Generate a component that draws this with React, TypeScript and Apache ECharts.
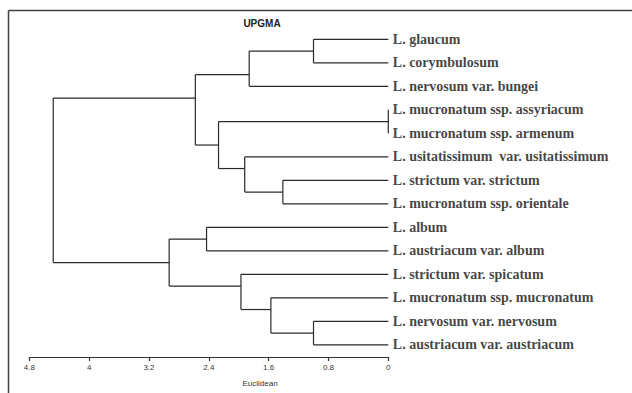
import React, { useEffect, useRef } from "react";
import * as echarts from "echarts";

// Leaves (top to bottom) and their row positions
const leafNames = [
  "L. glaucum",
  "L. corymbulosum",
  "L. nervosum var. bungei",
  "L. mucronatum ssp. assyriacum",
  "L. mucronatum ssp. armenum",
  "L. usitatissimum  var. usitatissimum",
  "L. strictum var. strictum",
  "L. mucronatum ssp. orientale",
  "L. album",
  "L. austriacum var. album",
  "L. strictum var. spicatum",
  "L. mucronatum ssp. mucronatum",
  "L. nervosum var. nervosum",
  "L. austriacum var. austriacum",
];
const leafRows = [1, 2, 3, 4, 5, 6, 7, 8, 9, 10, 11, 12, 13, 14];

// Internal nodes: id, merge height (Euclidean), row position, children
const nodeIds = ["A", "B", "P", "E", "D", "C", "T", "F", "I", "H", "G", "U", "R"];
const nodeHeights = [1.0, 1.86, 0, 1.41, 1.92, 2.27, 2.58, 2.43, 1.0, 1.57, 1.97, 2.93, 4.48];
const nodeRows = [1.5, 2.5, 4.5, 7.5, 6.5, 5.5, 3.5, 9.5, 13.5, 12.5, 11.5, 10.5, 7];
const nodeChildren = [
  ["L0", "L1"],
  ["A", "L2"],
  ["L3", "L4"],
  ["L6", "L7"],
  ["L5", "E"],
  ["P", "D"],
  ["B", "C"],
  ["L8", "L9"],
  ["L12", "L13"],
  ["L11", "I"],
  ["L10", "H"],
  ["F", "G"],
  ["T", "U"],
];

const xTicks = [0, 0.8, 1.6, 2.4, 3.2, 4, 4.8];

function posOf(id: string): [number, number] {
  if (id.startsWith("L")) {
    const i = parseInt(id.slice(1), 10);
    return [0, leafRows[i]];
  }
  const k = nodeIds.indexOf(id);
  return [nodeHeights[k], nodeRows[k]];
}

function buildSegments(): number[][] {
  const segs: number[][] = [];
  nodeIds.forEach((id, k) => {
    const h = nodeHeights[k];
    const rows = nodeChildren[k].map((c) => posOf(c)[1]);
    segs.push([h, Math.min(...rows), h, Math.max(...rows)]);
    nodeChildren[k].forEach((c) => {
      const [ch, cr] = posOf(c);
      if (ch !== h) segs.push([ch, cr, h, cr]);
    });
  });
  return segs;
}

export default function App() {
  const ref = useRef<HTMLDivElement>(null);
  useEffect(() => {
    if (!ref.current) return;
    const chart = echarts.init(ref.current, null, { renderer: "svg" });
    const segs = buildSegments();
    chart.setOption({
      animation: false,
      backgroundColor: "#ffffff",
      grid: { left: 29.3, right: 243.7, top: 15.8, bottom: 36 },
      xAxis: {
        type: "value",
        position: "bottom",
        inverse: true,
        min: 0,
        max: 4.8,
        interval: 0.8,
        splitLine: { show: false },
        axisLine: { show: true, onZero: false, lineStyle: { color: "#333", width: 1.2 } },
        axisTick: { show: true, length: 4, lineStyle: { color: "#333", width: 1.2 } },
        axisLabel: {
          margin: 6,
          fontSize: 8,
          fontFamily: "Liberation Sans, Arial, sans-serif",
          color: "#333",
          formatter: (v: number) => {
            const r = Math.round(v * 10) / 10;
            return xTicks.includes(r) ? String(r) : "";
          },
        },
      },
      yAxis: {
        type: "value",
        inverse: true,
        min: 0,
        max: 14.52,
        show: false,
      },
      series: [
        {
          type: "custom",
          silent: true,
          data: segs,
          encode: { x: [0, 2], y: [1, 3] },
          renderItem: (params: any, api: any) => {
            const p1 = api.coord([api.value(0), api.value(1)]);
            const p2 = api.coord([api.value(2), api.value(3)]);
            return {
              type: "line",
              shape: { x1: p1[0], y1: p1[1], x2: p2[0], y2: p2[1] },
              style: { stroke: "#2a2a2a", lineWidth: 1.2 },
            };
          },
        },
        {
          type: "scatter",
          silent: true,
          symbolSize: 1,
          itemStyle: { color: "rgba(0,0,0,0)" },
          data: leafRows.map((r, i) => ({ value: [0, r], name: leafNames[i] })),
          label: {
            show: true,
            position: "right",
            distance: 4,
            formatter: "{b}",
            fontFamily: "Liberation Serif, 'Times New Roman', serif",
            fontWeight: "bold",
            fontSize: 14,
            color: "#111",
          },
        },
      ],
      graphic: [
        {
          type: "line",
          silent: true,
          shape: { x1: 8.5, y1: 10.5, x2: 632, y2: 10.5 },
          style: { stroke: "#444", lineWidth: 1.5 },
        },
        {
          type: "line",
          silent: true,
          shape: { x1: 8.5, y1: 10.5, x2: 8.5, y2: 393 },
          style: { stroke: "#444", lineWidth: 1.5 },
        },
        {
          type: "text",
          silent: true,
          x: 262,
          y: 23,
          style: {
            text: "UPGMA",
            fontFamily: "Liberation Sans, Arial, sans-serif",
            fontWeight: "bold",
            fontSize: 10,
            fill: "#222",
            textAlign: "center",
            textVerticalAlign: "middle",
          },
        },
        {
          type: "text",
          silent: true,
          x: 260,
          y: 383,
          style: {
            text: "Euclidean",
            fontFamily: "Liberation Sans, Arial, sans-serif",
            fontSize: 8,
            fill: "#333",
            textAlign: "center",
            textVerticalAlign: "middle",
          },
        },
      ],
    });
    return () => chart.dispose();
  }, []);
  return (
    <div
      ref={ref}
      style={{ position: "fixed", left: 0, top: 0, width: 632, height: 393, background: "#fff" }}
    />
  );
}
